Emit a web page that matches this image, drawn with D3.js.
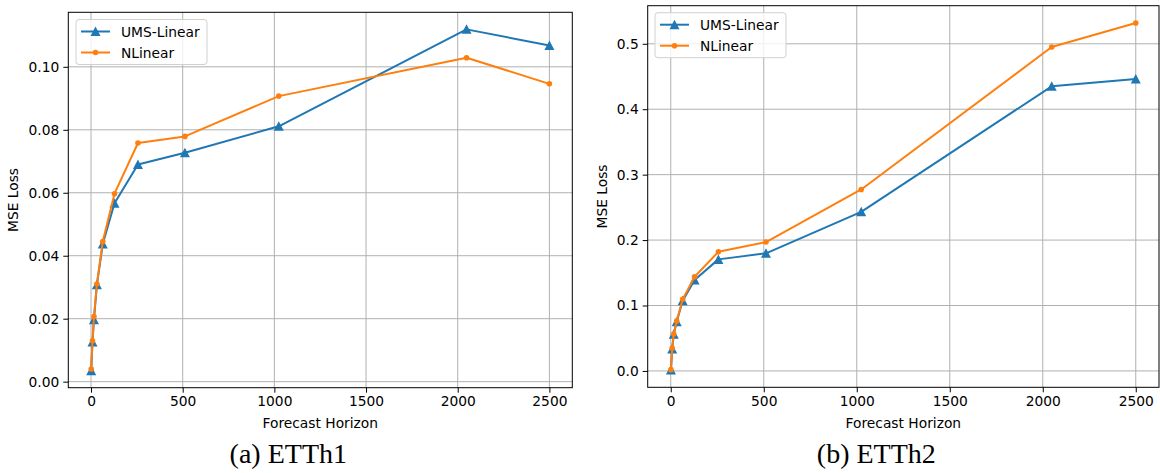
<!DOCTYPE html>
<html lang="en">
<head>
    <meta charset="UTF-8">
    <title>UMS-Linear vs NLinear</title>
    <script src="https://d3js.org/d3.v7.min.js"></script>
    <style>
        body, html {
            margin: 0;
            padding: 0;
            overflow: hidden;
            background: #ffffff;
        }
        svg {
            display: block;
            font-family: "DejaVu Sans", sans-serif;
        }
        .grid line {
            stroke: #b0b0b0;
            stroke-width: 1px;
        }
        .axis text {
            font-size: 13.8px;
            font-family: "DejaVu Sans", sans-serif;
            fill: #000;
        }
        .axis path, .axis line {
            stroke: #000;
            stroke-width: 1px;
        }
        .caption {
            font-family: "Liberation Serif", "Times New Roman", serif;
            font-size: 28px;
        }
    </style>
</head>
<body>
    <svg width="1160" height="473"></svg>

    <script>
        // data
        const horizons = [1, 8, 16, 32, 64, 128, 256, 512, 1024, 2048, 2500];
        const etth1Ums = [0.0035, 0.0126, 0.0197, 0.0308, 0.0437, 0.0567, 0.0690, 0.0727, 0.0811, 0.1119, 0.1068];
        const etth1NLinear = [0.0040, 0.0130, 0.0207, 0.0310, 0.0445, 0.0597, 0.0758, 0.0779, 0.0907, 0.1029, 0.0946];
        const etth2Ums = [0.0015, 0.0336, 0.0560, 0.0753, 0.1074, 0.1390, 0.1705, 0.1797, 0.2432, 0.4350, 0.4463];
        const etth2NLinear = [0.0020, 0.0346, 0.0565, 0.0763, 0.1094, 0.1440, 0.1820, 0.1970, 0.2773, 0.4950, 0.5317];
        const seriesNames = ["UMS-Linear", "NLinear"];
        const xTicks = [0, 500, 1000, 1500, 2000, 2500];
        const etth1YTicks = [0, 0.02, 0.04, 0.06, 0.08, 0.10];
        const etth2YTicks = [0, 0.1, 0.2, 0.3, 0.4, 0.5];
        const captions = ["(a) ETTh1", "(b) ETTh2"];
        const xLabel = "Forecast Horizon";
        const yLabel = "MSE Loss";

        const colors = ["#1f77b4", "#ff7f0e"];
        const svg = d3.select("svg");

        const panels = [
            { left: 68.3, right: 572.3, top: 12.3, bottom: 387.7, series: [etth1Ums, etth1NLinear],
              yTicks: etth1YTicks, fmt: ".2f", caption: captions[0], capShift: -32, ylx: 18, legend: [76, 19.5] },
            { left: 647.7, right: 1159, top: 5.7, bottom: 387.3, series: [etth2Ums, etth2NLinear],
              yTicks: etth2YTicks, fmt: ".1f", caption: captions[1], capShift: -27, ylx: 607, legend: [655, 12.7] }
        ];

        // matplotlib-like 5% margins
        function padded(ext) {
            const m = (ext[1] - ext[0]) * 0.05;
            return [ext[0] - m, ext[1] + m];
        }

        const triangle = "M0,-5L5,4.5L-5,4.5Z";

        panels.forEach(p => {
            const g = svg.append("g");
            const x = d3.scaleLinear().domain(padded(d3.extent(horizons))).range([p.left, p.right]);
            const allY = p.series.flat();
            const y = d3.scaleLinear().domain(padded(d3.extent(allY))).range([p.bottom, p.top]);

            // grid
            const grid = g.append("g").attr("class", "grid");
            grid.selectAll(".gx").data(xTicks).enter().append("line")
                .attr("x1", d => x(d)).attr("x2", d => x(d))
                .attr("y1", p.top).attr("y2", p.bottom);
            grid.selectAll(".gy").data(p.yTicks).enter().append("line")
                .attr("x1", p.left).attr("x2", p.right)
                .attr("y1", d => y(d)).attr("y2", d => y(d));

            // lines + markers
            p.series.forEach((vals, si) => {
                const pts = horizons.map((h, i) => [h, vals[i]]);
                g.append("path")
                    .datum(pts)
                    .attr("fill", "none")
                    .attr("stroke", colors[si])
                    .attr("stroke-width", 2)
                    .attr("stroke-linejoin", "round")
                    .attr("d", d3.line().x(d => x(d[0])).y(d => y(d[1])));
                if (si === 0) {
                    g.selectAll(null).data(pts).enter().append("path")
                        .attr("d", triangle)
                        .attr("fill", colors[si])
                        .attr("transform", d => `translate(${x(d[0])},${y(d[1])})`);
                } else {
                    g.selectAll(null).data(pts).enter().append("circle")
                        .attr("cx", d => x(d[0])).attr("cy", d => y(d[1]))
                        .attr("r", 2.8)
                        .attr("fill", colors[si]);
                }
            });

            // axes
            g.append("g").attr("class", "axis")
                .attr("transform", `translate(0,${p.bottom})`)
                .call(d3.axisBottom(x).tickValues(xTicks).tickFormat(d3.format("d")).tickSize(5).tickPadding(4).tickSizeOuter(0))
                .call(a => a.select(".domain").remove());
            g.append("g").attr("class", "axis")
                .attr("transform", `translate(${p.left},0)`)
                .call(d3.axisLeft(y).tickValues(p.yTicks).tickFormat(d3.format(p.fmt)).tickSize(5).tickPadding(4).tickSizeOuter(0))
                .call(a => a.select(".domain").remove());

            // frame
            g.append("rect")
                .attr("x", p.left).attr("y", p.top)
                .attr("width", p.right - p.left).attr("height", p.bottom - p.top)
                .attr("fill", "none").attr("stroke", "#000").attr("stroke-width", 1);

            // labels
            const cx = (p.left + p.right) / 2;
            g.append("text")
                .attr("x", cx).attr("y", 428)
                .attr("text-anchor", "middle")
                .attr("font-size", 13.8)
                .text(xLabel);
            g.append("text")
                .attr("transform", `translate(${p.ylx},${(p.top + p.bottom) / 2}) rotate(-90)`)
                .attr("text-anchor", "middle")
                .attr("font-size", 13.8)
                .text(yLabel);
            g.append("text")
                .attr("class", "caption")
                .attr("x", cx + p.capShift).attr("y", 463)
                .attr("text-anchor", "middle")
                .text(p.caption);

            // legend
            const [lx, ly] = p.legend;
            const leg = g.append("g").attr("transform", `translate(${lx},${ly})`);
            leg.append("rect")
                .attr("width", 131).attr("height", 45)
                .attr("rx", 3)
                .attr("fill", "#fff").attr("fill-opacity", 0.8)
                .attr("stroke", "#d0d0d0");
            seriesNames.forEach((name, si) => {
                const yy = 12 + si * 21;
                leg.append("line")
                    .attr("x1", 5).attr("x2", 34)
                    .attr("y1", yy).attr("y2", yy)
                    .attr("stroke", colors[si]).attr("stroke-width", 2);
                if (si === 0) {
                    leg.append("path").attr("d", triangle)
                        .attr("transform", `translate(19.5,${yy})`)
                        .attr("fill", colors[si]);
                } else {
                    leg.append("circle").attr("cx", 19.5).attr("cy", yy).attr("r", 2.8)
                        .attr("fill", colors[si]);
                }
                leg.append("text")
                    .attr("x", 45).attr("y", yy + 5)
                    .attr("font-size", 13.8)
                    .text(name);
            });
        });
    </script>
</body>
</html>
